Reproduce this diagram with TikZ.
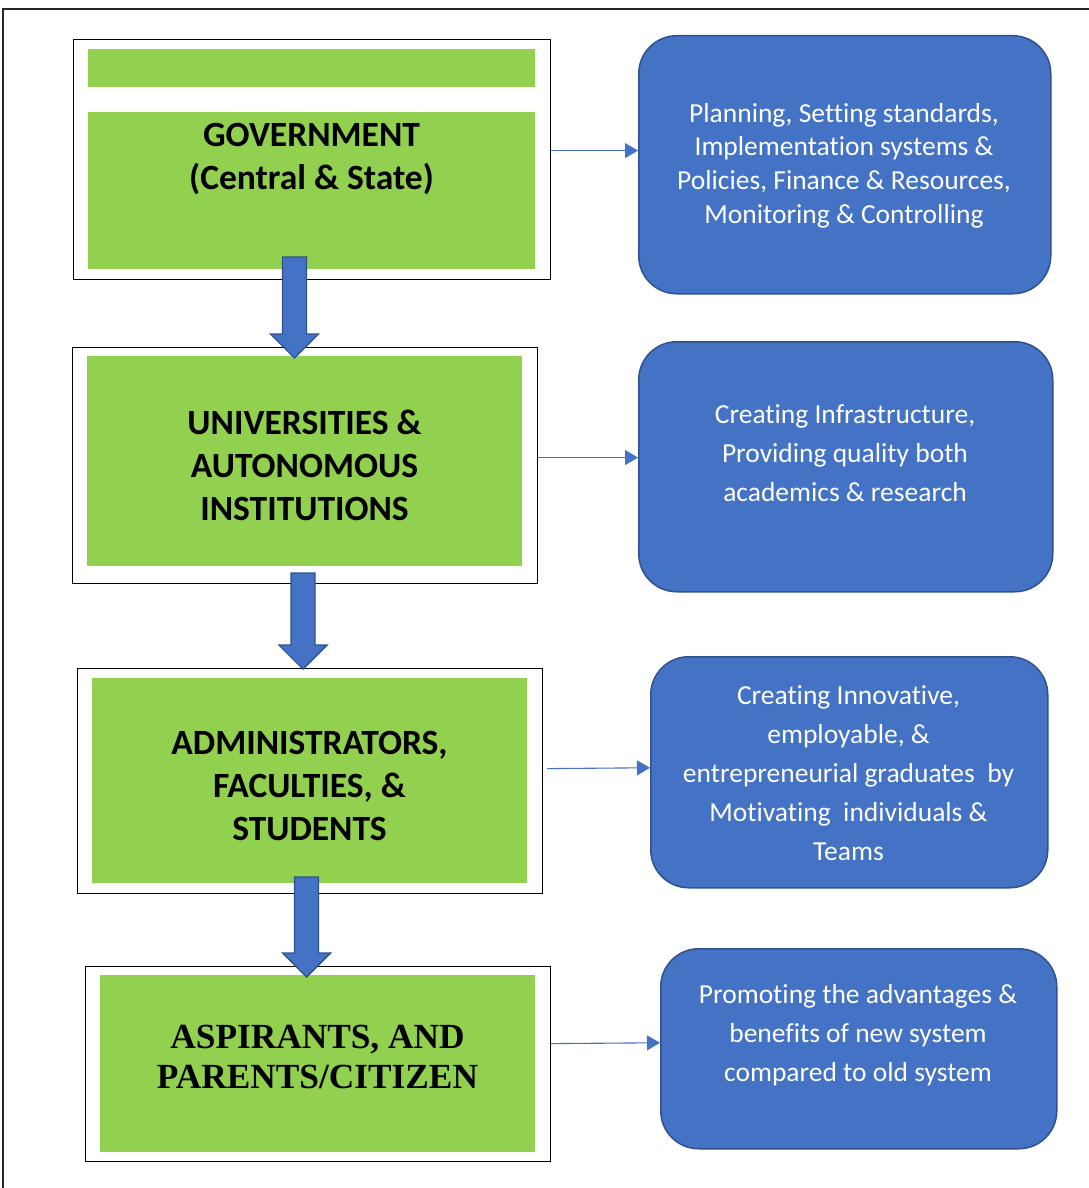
\documentclass[tikz,border=0pt]{standalone}
\usepackage{fontspec}
\setmainfont{Carlito}[Ligatures={NoCommon,NoContextual,NoRequired}]
\newfontfamily\tnr{Liberation Serif}
\usetikzlibrary{arrows.meta,calc}
\definecolor{lgreen}{HTML}{92D050}
\definecolor{mblue}{HTML}{4472C4}
\definecolor{dblue}{HTML}{2F528F}
\tikzset{
  outerbox/.style={draw=black, line width=1.2pt, fill=white, inner sep=0pt, anchor=north west},
  greenbox/.style={fill=lgreen, draw=none, inner sep=0pt, anchor=north west},
  bluebox/.style={fill=mblue, draw=dblue, line width=1.5pt, rounded corners=38pt, inner sep=0pt, anchor=north west},
  gtext/.style={font=\bfseries\fontsize{35.5}{43}\selectfont, align=center, text=black},
  ttext/.style={font=\tnr\bfseries\fontsize{35.3}{40}\selectfont, align=center, text=black},
  btext/.style={font=\fontsize{27.5}{39}\selectfont, align=center, text=white},
  conn/.style={draw=mblue, line width=1.1pt, -{Triangle[length=13pt,width=15pt]}},
  fatarrow/.style={fill=mblue, draw=dblue, line width=1.4pt, line join=miter},
  frameline/.style={draw=black!85, line width=1.3pt}
}
\newcommand\blockarrow[2]{%
  \path[fatarrow] let \p1=(#1), \p2=(#2) in
    (\x1-12pt,\y1) -- (\x1+12pt,\y1) -- (\x1+12pt,\y2+24pt) -- (\x1+24pt,\y2+24pt)
    -- (\x1,\y2) -- (\x1-24pt,\y2+24pt) -- (\x1-12pt,\y2+24pt) -- cycle;}
\begin{document}
\begin{tikzpicture}[x=1pt,y=-1pt]
\useasboundingbox (0,0) rectangle (1089,1188);
\fill[white] (0,0) rectangle (1089,1188);
% page frame
\draw[frameline] (3,1188) -- (3,9) -- (1089,9);
% outer white boxes
\node[outerbox, minimum width=477pt, minimum height=240pt] (o1) at (73,39) {};
\node[outerbox, minimum width=465pt, minimum height=236pt] (o2) at (72,347) {};
\node[outerbox, minimum width=465pt, minimum height=225pt] (o3) at (77,668) {};
\node[outerbox, minimum width=465pt, minimum height=195pt] (o4) at (85,966) {};
% green boxes
\node[greenbox, minimum width=447pt, minimum height=38pt] (s1) at (88,49) {};
\node[greenbox, minimum width=447pt, minimum height=157pt] (g1) at (88,112) {};
\node[greenbox, minimum width=435pt, minimum height=210pt] (g2) at (87,356) {};
\node[greenbox, minimum width=435pt, minimum height=205pt] (g3) at (92,678) {};
\node[greenbox, minimum width=435pt, minimum height=177pt] (g4) at (100,975) {};
% green texts
\node[gtext] (t1) at (311.5,159.5) {GOVERNMENT\\(Central \& State)};
\node[gtext] (t2) at (304.5,465) {UNIVERSITIES \&\\AUTONOMOUS\\INSTITUTIONS};
\node[gtext] (t3) at (309.5,786) {ADMINISTRATORS,\\FACULTIES, \&\\STUDENTS};
\node[ttext] (t4) at (317.5,1057) {ASPIRANTS, AND\\PARENTS/CITIZEN};
% block arrows
\coordinate (a1s) at (294.5,257); \coordinate (a1e) at (294.5,358);
\coordinate (a2s) at (303,573);   \coordinate (a2e) at (303,669);
\coordinate (a3s) at (306.5,877); \coordinate (a3e) at (306.5,977);
\blockarrow{a1s}{a1e}
\blockarrow{a2s}{a2e}
\blockarrow{a3s}{a3e}
% blue boxes
\node[bluebox, minimum width=412pt, minimum height=258pt] (b1) at (638,35) {};
\node[bluebox, minimum width=414pt, minimum height=250pt] (b2) at (638,341) {};
\node[bluebox, minimum width=397pt, minimum height=231pt] (b3) at (650,656) {};
\node[bluebox, minimum width=396pt, minimum height=200pt] (b4) at (660,948) {};
% blue texts
\node[btext, font=\fontsize{27.5}{33.7}\selectfont] (u1) at (844,165.5) {Planning, Setting standards,\\Implementation systems \&\\Policies, Finance \& Resources,\\Monitoring \& Controlling};
\node[btext] (u2) at (845,453) {Creating Infrastructure,\\Providing quality both\\academics \& research};
\node[btext] (u3) at (848.5,773.5) {Creating Innovative,\\employable, \&\\entrepreneurial graduates\ \ by\\Motivating\ \ individuals \&\\Teams};
\node[btext] (u4) at (858,1035) {Promoting the advantages \&\\benefits of new system\\compared to old system};
% connectors
\draw[conn] ([yshift=9pt]o1.east) coordinate (c1s) -- (c1s -| b1.west);
\draw[conn] ([yshift=8pt]o2.east) coordinate (c2s) -- (c2s -| b2.west);
\draw[conn] ([xshift=4pt,yshift=12.5pt]o3.east) coordinate (c3s) -- ([yshift=4.5pt]b3.west);
\draw[conn] ([yshift=20.5pt]o4.east) coordinate (c4s) -- ([yshift=6pt]b4.west);
\end{tikzpicture}
\end{document}
